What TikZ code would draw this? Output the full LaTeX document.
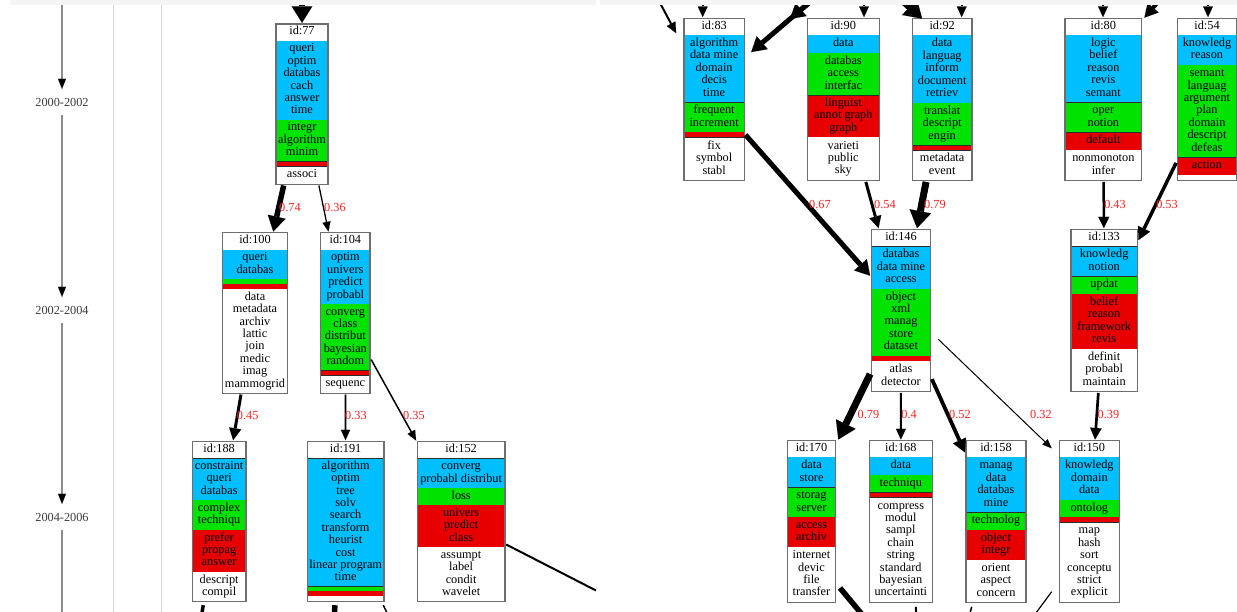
\documentclass[tikz,border=0pt]{standalone}
\usepackage{fontspec}
\setmainfont{Liberation Serif}
\usetikzlibrary{arrows.meta,calc}
\definecolor{cblue}{RGB}{0,191,255}
\definecolor{cgreen}{RGB}{0,226,0}
\definecolor{cred}{RGB}{232,0,0}
\definecolor{cborder}{RGB}{110,110,110}
\definecolor{csep}{RGB}{45,45,45}
\definecolor{clab}{RGB}{255,35,35}
\definecolor{ctl}{RGB}{140,140,140}
\definecolor{cpanel}{RGB}{212,212,212}
\definecolor{cstrip}{RGB}{245,245,245}
\definecolor{cyear}{RGB}{60,60,60}
\newcommand\segfont{\fontsize{12.3}{12.4}\selectfont}
\newcommand\labfont{\fontsize{12.3}{14}\selectfont}
\newcommand\setx[2]{\def\curL{#1}\def\curR{#2}}
\newcommand\seg[5]{%
  \fill[#2] (\curL,#3) rectangle (\curR,#4);
  \draw[sepline] (\curL,#4) -- (\curR,#4);
  \node[segtext] (#1) at ({(\curL+\curR)/2},{(#3+#4)/2}) {\begin{tabular}{@{}c@{}}#5\end{tabular}};}
\newcommand\tbox[3]{%
  \node[tboxst, minimum width={(\curR-\curL)*1pt}, minimum height={(#3-#2)*1pt}] (#1) at ({(\curL+\curR)/2},{(#2+#3)/2}) {};}
\begin{document}
\begin{tikzpicture}[x=1pt,y=-1pt,
  segtext/.style={font=\segfont, inner sep=0pt, text=black},
  sepline/.style={draw=csep, line width=0.8pt},
  tboxst/.style={draw=cborder, line width=1.4pt, inner sep=0pt, outer sep=1.2pt},
  ed/.style={draw=black, line width=#1, -{Triangle[length=8pt 1.3, width=5pt 2.4, line width=0.01pt]}},
  edn/.style={draw=black, line width=#1},
  elab/.style={font=\labfont, text=clab, inner sep=0pt},
  yearlab/.style={font=\labfont, text=cyear, inner xsep=0pt, inner ysep=0pt, minimum height=26pt},
  tl/.style={draw=ctl, line width=1.8pt, -{Triangle[length=10pt, width=8pt, line width=0.01pt, color=black]}},
  tlplain/.style={draw=ctl, line width=1.8pt},
  panelline/.style={draw=cpanel, line width=1pt}
]
\useasboundingbox (0,0) rectangle (1237,612);
\clip (0,0) rectangle (1237,612);
\fill[white] (0,0) rectangle (1237,612);

% panel separators
\coordinate (p1a) at (113,0); \coordinate (p1b) at (113,612);
\coordinate (p2a) at (161,0); \coordinate (p2b) at (161,612);
\draw[panelline] (p1a) -- (p1b);
\draw[panelline] (p2a) -- (p2b);

% timeline
\coordinate (t0) at (62,0);
\node[yearlab] (y1) at (62,102) {2000-2002};
\node[yearlab] (y2) at (62,310) {2002-2004};
\node[yearlab] (y3) at (62,517) {2004-2006};
\coordinate (t4) at (62,620);
\draw[tl] (t0) -- (y1);
\draw[tl] (y1) -- (y2);
\draw[tl] (y2) -- (y3);
\draw[tlplain] (y3) -- (t4);

% ---------------- left panel nodes
\setx{276}{328}
\seg{n77h}{white}{24}{41}{id:77}
\seg{n77b}{cblue}{41}{120}{queri\\optim\\databas\\cach\\answer\\time}
\seg{n77g}{cgreen}{120}{161.7}{integr\\algorithm\\minim}
\seg{n77r}{cred}{161.7}{166.7}{}
\seg{n77w}{white}{166.7}{184.3}{associ}
\tbox{n77}{24}{184.3}

\setx{222.7}{287.3}
\seg{n100h}{white}{232.7}{250}{id:100}
\seg{n100b}{cblue}{250}{279.3}{queri\\databas}
\seg{n100g}{cgreen}{279.3}{284.3}{}
\seg{n100r}{cred}{284.3}{289.3}{}
\seg{n100w}{white}{289.3}{393.3}{data\\metadata\\archiv\\lattic\\join\\medic\\imag\\mammogrid}
\tbox{n100}{232.7}{393.3}

\setx{320.7}{370}
\seg{n104h}{white}{232.7}{250}{id:104}
\seg{n104b}{cblue}{250}{304}{optim\\univers\\predict\\probabl}
\seg{n104g}{cgreen}{304}{370.7}{converg\\class\\distribut\\bayesian\\random}
\seg{n104r}{cred}{370.7}{375.7}{}
\seg{n104w}{white}{375.7}{393.3}{sequenc}
\tbox{n104}{232.7}{393.3}

\setx{192.3}{246}
\seg{n188h}{white}{441.3}{458.7}{id:188}
\seg{n188b}{cblue}{458.7}{500}{constraint\\queri\\databas}
\seg{n188g}{cgreen}{500}{530}{complex\\techniqu}
\seg{n188r}{cred}{530}{572}{prefer\\propag\\answer}
\seg{n188w}{white}{572}{601.7}{descript\\compil}
\tbox{n188}{441.3}{601.7}

\setx{307.3}{384}
\seg{n191h}{white}{441.3}{458.7}{id:191}
\seg{n191b}{cblue}{458.7}{586.5}{algorithm\\optim\\tree\\solv\\search\\transform\\heurist\\cost\\linear program\\time}
\seg{n191g}{cgreen}{586.5}{591.3}{}
\seg{n191r}{cred}{591.3}{596.3}{}
\seg{n191w}{white}{596.3}{601.7}{}
\tbox{n191}{441.3}{601.7}

\setx{417.3}{505}
\seg{n152h}{white}{441.3}{458.7}{id:152}
\seg{n152b}{cblue}{458.7}{488.3}{converg\\probabl distribut}
\seg{n152g}{cgreen}{488.3}{505.3}{loss}
\seg{n152r}{cred}{505.3}{547.3}{univers\\predict\\class}
\seg{n152w}{white}{547.3}{601.7}{assumpt\\label\\condit\\wavelet}
\tbox{n152}{441.3}{601.7}

% ---------------- right panel nodes
\setx{684}{744.3}
\seg{n83h}{white}{18.3}{35}{id:83}
\seg{n83b}{cblue}{35}{102.7}{algorithm\\data mine\\domain\\decis\\time}
\seg{n83g}{cgreen}{102.7}{132.3}{frequent\\increment}
\seg{n83r}{cred}{132.3}{137.7}{}
\seg{n83w}{white}{137.7}{180.7}{fix\\symbol\\stabl}
\tbox{n83}{18.3}{180.7}

\setx{807.3}{879.3}
\seg{n90h}{white}{18.3}{35}{id:90}
\seg{n90b}{cblue}{35}{53.3}{data}
\seg{n90g}{cgreen}{53.3}{95.7}{databas\\access\\interfac}
\seg{n90r}{cred}{95.7}{137.3}{linguist\\annot graph\\graph}
\seg{n90w}{white}{137.3}{180.7}{varieti\\public\\sky}
\tbox{n90}{18.3}{180.7}

\setx{912.3}{972}
\seg{n92h}{white}{18.3}{35}{id:92}
\seg{n92b}{cblue}{35}{103.3}{data\\languag\\inform\\document\\retriev}
\seg{n92g}{cgreen}{103.3}{145.7}{translat\\descript\\engin}
\seg{n92r}{cred}{145.7}{150.7}{}
\seg{n92w}{white}{150.7}{180.7}{metadata\\event}
\tbox{n92}{18.3}{180.7}

\setx{1065}{1141.7}
\seg{n80h}{white}{18.3}{35}{id:80}
\seg{n80b}{cblue}{35}{102.7}{logic\\belief\\reason\\revis\\semant}
\seg{n80g}{cgreen}{102.7}{132.7}{oper\\notion}
\seg{n80r}{cred}{132.7}{150.3}{default}
\seg{n80w}{white}{150.3}{180.7}{nonmonoton\\infer}
\tbox{n80}{18.3}{180.7}

\setx{1177.3}{1236.7}
\seg{n54h}{white}{18.3}{35}{id:54}
\seg{n54b}{cblue}{35}{65.3}{knowledg\\reason}
\seg{n54g}{cgreen}{65.3}{157.7}{semant\\languag\\argument\\plan\\domain\\descript\\defeas}
\seg{n54r}{cred}{157.7}{175}{action}
\seg{n54w}{white}{175}{180.7}{}
\tbox{n54}{18.3}{180.7}

\setx{871.3}{930.7}
\seg{n146h}{white}{229.3}{246.7}{id:146}
\seg{n146b}{cblue}{246.7}{289}{databas\\data mine\\access}
\seg{n146g}{cgreen}{289}{356}{object\\xml\\manag\\store\\dataset}
\seg{n146r}{cred}{356}{361.3}{}
\seg{n146w}{white}{361.3}{391.7}{atlas\\detector}
\tbox{n146}{229.3}{391.7}

\setx{1071}{1137.3}
\seg{n133h}{white}{229.3}{246.7}{id:133}
\seg{n133b}{cblue}{246.7}{276.7}{knowledg\\notion}
\seg{n133g}{cgreen}{276.7}{294}{updat}
\seg{n133r}{cred}{294}{349}{belief\\reason\\framework\\revis}
\seg{n133w}{white}{349}{391.7}{definit\\probabl\\maintain}
\tbox{n133}{229.3}{391.7}

\setx{787.3}{835.7}
\seg{n170h}{white}{440.7}{457.3}{id:170}
\seg{n170b}{cblue}{457.3}{487.7}{data\\store}
\seg{n170g}{cgreen}{487.7}{517.3}{storag\\server}
\seg{n170r}{cred}{517.3}{547.3}{access\\archiv}
\seg{n170w}{white}{547.3}{602.3}{internet\\devic\\file\\transfer}
\tbox{n170}{440.7}{602.3}

\setx{869.3}{932.3}
\seg{n168h}{white}{440.7}{457.3}{id:168}
\seg{n168b}{cblue}{457.3}{475}{data}
\seg{n168g}{cgreen}{475}{492.7}{techniqu}
\seg{n168r}{cred}{492.7}{497.7}{}
\seg{n168w}{white}{497.7}{602.3}{compress\\modul\\sampl\\chain\\string\\standard\\bayesian\\uncertainti}
\tbox{n168}{440.7}{602.3}

\setx{966}{1026}
\seg{n158h}{white}{440.7}{457.3}{id:158}
\seg{n158b}{cblue}{457.3}{512.7}{manag\\data\\databas\\mine}
\seg{n158g}{cgreen}{512.7}{530}{technolog}
\seg{n158r}{cred}{530}{560}{object\\integr}
\seg{n158w}{white}{560}{602.3}{orient\\aspect\\concern}
\tbox{n158}{440.7}{602.3}

\setx{1059.3}{1119.3}
\seg{n150h}{white}{440.7}{457.3}{id:150}
\seg{n150b}{cblue}{457.3}{500}{knowledg\\domain\\data}
\seg{n150g}{cgreen}{500}{517.3}{ontolog}
\seg{n150r}{cred}{517.3}{522.7}{}
\seg{n150w}{white}{522.7}{602.3}{map\\hash\\sort\\conceptu\\strict\\explicit}
\tbox{n150}{440.7}{602.3}

% ---------------- edges, left panel
\coordinate (c77) at (302,-30);
\draw[ed=6.5pt] (c77) -- (n77);
\draw[ed=5.5pt] (n77) -- (n100);
\draw[ed=1.3pt] (n77) -- (n104);
\draw[ed=3pt] (n100) -- (n188);
\draw[ed=1.8pt] (n104) -- (n191);
\draw[ed=1.5pt] (n104) -- (n152);
\coordinate (o152) at (596,590.5);
\draw[edn=2pt] (n152) -- (o152);
\coordinate (o188) at (201.5,616);
\draw[edn=3.5pt] ($(n188.south)+(-15.9,2.3)$) -- (o188);
\coordinate (o191a) at (334.3,616);
\draw[edn=5.5pt] ($(n191.south)+(-10.7,2.3)$) -- (o191a);
\coordinate (o191b) at (388.5,616);
\draw[edn=1.5pt] ($(n191.south east)+(-1.9,2.3)$) -- (o191b);

% ---------------- edges, right panel (incoming from above)
\coordinate (c83l) at (648.5,-18.5);
\draw[ed=2pt] (c83l) -- ($(n83.north west)+(-6.7,16)$);
\coordinate (c83t) at (702.7,-20);
\draw[ed=2pt] (c83t) -- (c83t |- n83.north);
\coordinate (c83r) at (826,-11.7);
\draw[ed=5pt] (c83r) -- ($(n83.north east)+(5.7,35)$);
\coordinate (c83x) at (790,19);
\draw[ed=5pt] (c83r) -- (c83x);
\coordinate (c90t) at (864,-20);
\draw[ed=2pt] (c90t) -- (c90t |- n90.north);
\coordinate (c92l) at (878,-22);
\draw[ed=7pt] (c92l) -- ($(n92.north west)+(11,1.5)$);
\coordinate (c92t) at (961.7,-20);
\draw[ed=2pt] (c92t) -- (c92t |- n92.north);
\coordinate (c80t) at (1103,-20);
\draw[ed=2pt] (c80t) -- (c80t |- n80.north);
\coordinate (c80r) at (1176.5,-19);
\draw[ed=4pt] (c80r) -- ($(n80.north east)+(1.5,0.5)$);
\coordinate (c54t) at (1208,-20);
\draw[ed=2pt] (c54t) -- (c54t |- n54.north);

% ---------------- edges, right panel
\draw[ed=5pt] (n83) -- (n146);
\draw[ed=3pt] (n90) -- (n146);
\draw[ed=7pt] (n92) -- (n146);
\draw[ed=2.5pt] (n80) -- (n133);
\draw[ed=3.5pt] (n54) -- (n133);
\draw[ed=7pt] (n146) -- ($(n170.north east)+(1.4,0)$);
\draw[ed=2pt] (n146) -- (n168);
\draw[ed=3.8pt] (n146) -- (n158);
\draw[ed=1pt] ($(n146.east)+(6.4,28.8)$) -- ($(n150.north west)+(-6.4,8.8)$);
\draw[ed=2.7pt] (n133) -- (n150);
\coordinate (o170) at (870,624);
\draw[edn=5.5pt] ($(n170.east)+(3.1,66.5)$) -- (o170);
\coordinate (o168) at (916.3,616);
\draw[edn=2pt] ($(n168.south)+(15,3.3)$) -- (o168);
\coordinate (o158) at (969.2,616);
\draw[edn=1.5pt] ($(n158.south)+(-24.3,3.3)$) -- (o158);
\coordinate (o150) at (1030,621);
\draw[edn=1.2pt] ($(n150.south west)+(-6.4,-11.8)$) -- (o150);

% ---------------- edge labels
\node[elab] (l1) at (290,207) {0.74};
\node[elab] (l2) at (335,207) {0.36};
\node[elab] (l3) at (247.7,415.7) {0.45};
\node[elab] (l4) at (356,415.7) {0.33};
\node[elab] (l5) at (414,415.7) {0.35};
\node[elab] (l6) at (820,204) {0.67};
\node[elab] (l7) at (885,204) {0.54};
\node[elab] (l8) at (935,204) {0.79};
\node[elab] (l9) at (1115,204) {0.43};
\node[elab] (l10) at (1167,204) {0.53};
\node[elab] (l11) at (868.5,414) {0.79};
\node[elab] (l12) at (909,414) {0.4};
\node[elab] (l13) at (960,414) {0.52};
\node[elab] (l14) at (1041,414) {0.32};
\node[elab] (l15) at (1108.5,414) {0.39};

% top strip
\fill[cstrip] (10,0) rectangle (596,5.5);
\fill[cstrip] (600,0) rectangle (1237,5.5);
\end{tikzpicture}
\end{document}
